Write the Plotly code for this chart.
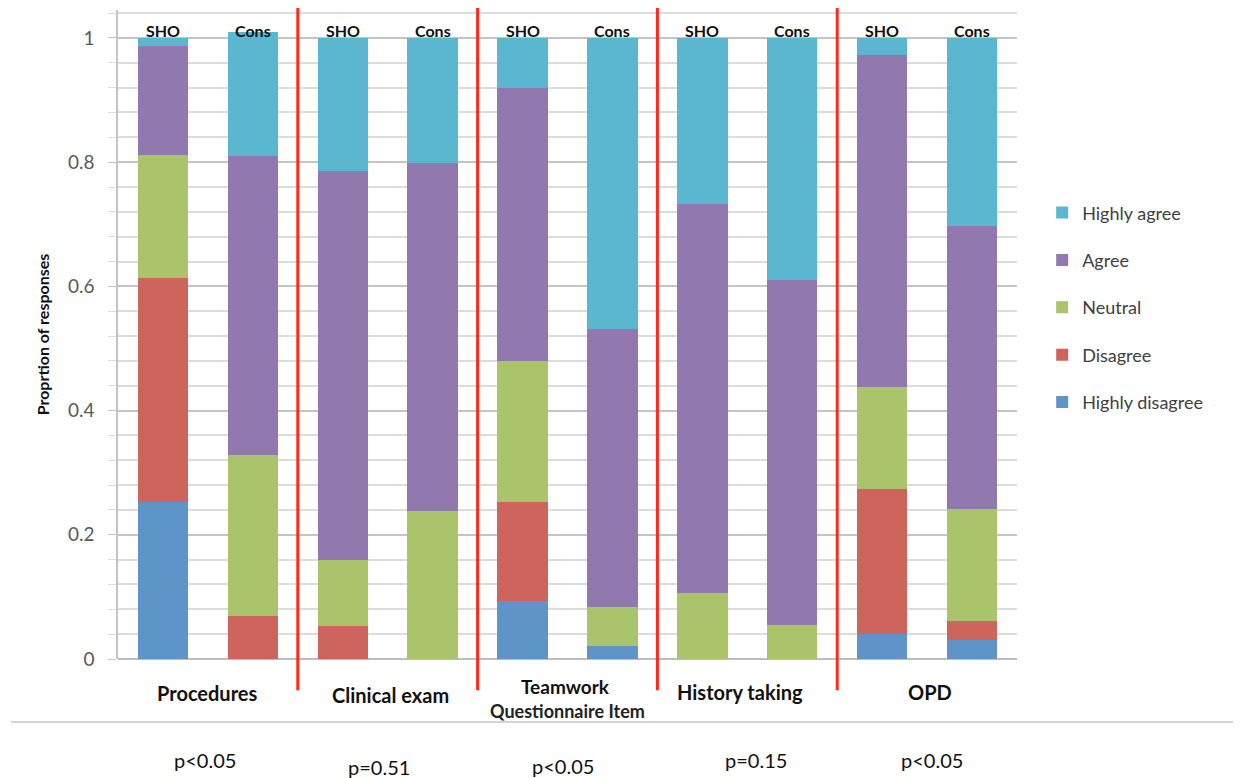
import plotly.graph_objects as go

# ---- data ----
groups = ["Procedures", "Clinical exam", "Teamwork", "History taking", "OPD"]
bar_labels = ["SHO", "Cons"] * 5
x_pos = list(range(10))
responses = ["Highly disagree", "Disagree", "Neutral", "Agree", "Highly agree"]
highly_disagree = [0.253, 0.0, 0.0, 0.0, 0.093, 0.021, 0.0, 0.0, 0.040, 0.031]
disagree = [0.361, 0.069, 0.053, 0.0, 0.160, 0.0, 0.0, 0.0, 0.234, 0.030]
neutral = [0.198, 0.260, 0.106, 0.238, 0.227, 0.063, 0.106, 0.055, 0.164, 0.181]
agree = [0.175, 0.481, 0.627, 0.561, 0.439, 0.447, 0.627, 0.555, 0.535, 0.455]
highly_agree = [0.013, 0.200, 0.214, 0.201, 0.081, 0.469, 0.267, 0.390, 0.027, 0.303]
p_values = ["p<0.05", "p=0.51", "p<0.05", "p=0.15", "p<0.05"]
colors = ["#5f94c8", "#cd645d", "#a9c46b", "#9179b0", "#5ab7cf"]
series = [highly_disagree, disagree, neutral, agree, highly_agree]

FONT = "Lato, 'Open Sans', sans-serif"

fig = go.Figure()
for i, (name, vals, col) in enumerate(zip(responses, series, colors)):
    fig.add_trace(go.Bar(
        x=x_pos, y=vals, name=name, width=0.56,
        marker=dict(color=col, line=dict(width=0)),
        legendgroup=name, legendrank=len(responses) - i,
    ))

annotations = []
# SHO / Cons labels above bars
for xi, lab in zip(x_pos, bar_labels):
    annotations.append(dict(x=xi, y=1.012, xref="x", yref="y", text="<b>" + lab + "</b>",
                            showarrow=False, yanchor="middle",
                            font=dict(family=FONT, size=16, color="#111111")))

# group labels below the axis (paper coordinates)
grp_x = [0.5, 2.53, 4.48, 6.42, 8.53]
grp_y = [-0.052, -0.055, -0.043, -0.051, -0.051]
grp_size = [20, 20, 19, 20, 20]
for gx, gy, gs, g in zip(grp_x, grp_y, grp_size, groups):
    annotations.append(dict(x=gx, y=gy, xref="x", yref="paper", text="<b>" + g + "</b>",
                            showarrow=False, yanchor="middle", borderpad=0,
                            font=dict(family=FONT, size=gs, color="#111111")))
annotations.append(dict(x=4.5, y=-0.08, xref="x", yref="paper", text="<b>Questionnaire Item</b>",
                        showarrow=False, yanchor="middle", borderpad=0,
                        font=dict(family=FONT, size=18, color="#222222")))

# p-values
p_x = [0.47, 2.4, 4.45, 6.6, 8.55]
p_y = [-0.156, -0.166, -0.165, -0.156, -0.156]
for px, py, pv in zip(p_x, p_y, p_values):
    annotations.append(dict(x=px, y=py, xref="x", yref="paper", text=pv,
                            showarrow=False, yanchor="middle",
                            font=dict(family=FONT, size=20, color="#111111")))

shapes = []
for sx in [1.5, 3.5, 5.5, 7.5]:
    shapes.append(dict(type="line", xref="x", yref="paper", x0=sx, x1=sx,
                       y0=-0.048, y1=1.003, line=dict(color="#ff2a1a", width=3)))
shapes.append(dict(type="line", xref="paper", yref="paper", x0=-0.119, x1=1.25,
                   y0=-0.097, y1=-0.097, line=dict(color="#d4d4d4", width=2)))

fig.update_layout(
    width=1225, height=770,
    margin=dict(l=110, r=216, t=2, b=119),
    paper_bgcolor="white", plot_bgcolor="white",
    barmode="stack",
    font=dict(family=FONT, color="#404040"),
    xaxis=dict(range=[-0.5, 9.5], showticklabels=False, showgrid=False,
               zeroline=False, showline=False, ticks=""),
    yaxis=dict(range=[0, 1.045], tickvals=[0, 0.2, 0.4, 0.6, 0.8, 1.0],
               ticktext=["0", "0.2", "0.4", "0.6", "0.8", "1"],
               showgrid=True, gridcolor="#c4c4c4", gridwidth=1.5,
               minor=dict(dtick=0.04, tick0=0, showgrid=True, gridcolor="#dcdcdc",
                          gridwidth=1.5, ticks="outside", ticklen=8, tickcolor="#dcdcdc"),
               ticks="outside", ticklen=8, tickcolor="#c4c4c4",
               showline=True, linecolor="#c4c4c4", linewidth=1.5,
               zeroline=True, zerolinecolor="#bdbdbd", zerolinewidth=2,
               tickfont=dict(family=FONT, size=19, color="#595959"),
               ticklabelstandoff=10,
               title=dict(text="<b>Proprtion of responses</b>", standoff=14,
                          font=dict(family=FONT, size=16, color="#111111"))),
    legend=dict(x=1.028, y=0.716, xanchor="left", yanchor="top",
                traceorder="grouped", tracegroupgap=21,
                font=dict(family=FONT, size=18, color="#404040"),
                itemwidth=30, bgcolor="rgba(0,0,0,0)"),
    annotations=annotations,
    shapes=shapes,
)

fig.write_html("out.html")
